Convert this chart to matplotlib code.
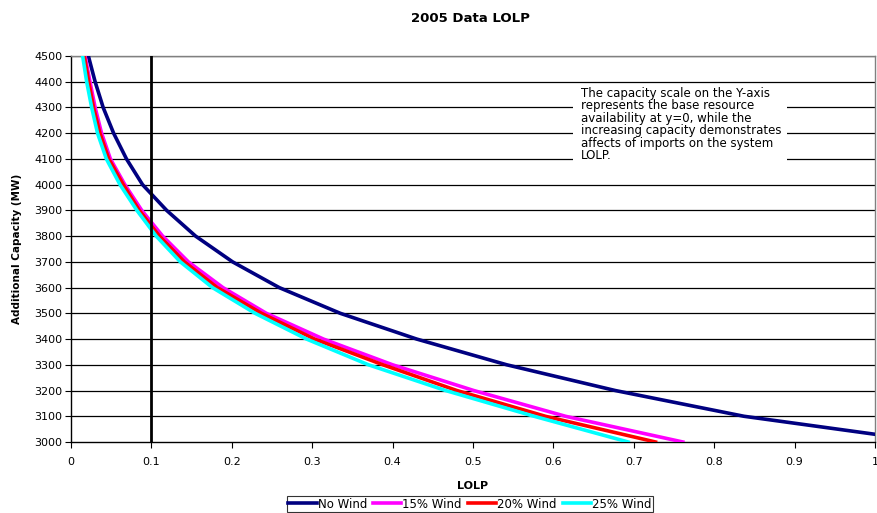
import matplotlib
matplotlib.use("Agg")
import matplotlib.pyplot as plt
from matplotlib.patches import Rectangle

plt.rcParams['font.family'] = ['DejaVu Sans']

# capacity levels (MW) and the LOLP at those levels
cap = [4500, 4400, 4300, 4200, 4100, 4000, 3900, 3800, 3700, 3600, 3500, 3400, 3300, 3200, 3100]
lolp_no_wind = [0.0216, 0.030, 0.040, 0.053, 0.069, 0.089, 0.119, 0.155, 0.201, 0.259, 0.335, 0.430, 0.542, 0.677, 0.837]
lolp_15 = [0.0174, 0.0236, 0.030, 0.038, 0.049, 0.067, 0.088, 0.114, 0.146, 0.189, 0.243, 0.314, 0.400, 0.501, 0.615]
lolp_20 = [0.0165, 0.022, 0.028, 0.036, 0.047, 0.065, 0.085, 0.110, 0.141, 0.182, 0.237, 0.303, 0.388, 0.480, 0.590]
lolp_25 = [0.0145, 0.0195, 0.0257, 0.033, 0.044, 0.061, 0.082, 0.106, 0.136, 0.176, 0.229, 0.293, 0.370, 0.466, 0.576]
# where each curve leaves the plot area
end_no_wind = (1.0, 3030)
end_15 = (0.761, 3000)
end_20 = (0.727, 3000)
end_25 = (0.693, 3000)

series = [
    ('No Wind', lolp_no_wind, end_no_wind, '#000080'),
    ('15% Wind', lolp_15, end_15, '#FF00FF'),
    ('20% Wind', lolp_20, end_20, '#FF0000'),
    ('25% Wind', lolp_25, end_25, '#00FFFF'),
]

W, H = 877, 513
fig = plt.figure(figsize=(8.77, 5.13), dpi=100)
ax = fig.add_axes([71/W, 71/H, 804/W, 386/H])

for yv in range(3100, 4501, 100):
    ax.axhline(yv, color='black', lw=0.9, zorder=1)

# white block behind the note, it cuts the gridlines
ax.add_patch(Rectangle((573/W, 1 - 166/H), 214/W, 80/H, transform=fig.transFigure,
                       facecolor='white', edgecolor='none', zorder=2))

for name, xs, end, col in series:
    ax.plot(xs + [end[0]], cap + [end[1]], color=col, lw=2.6, label=name, zorder=3)

ax.axvline(0.1, color='black', lw=2, zorder=4)

ax.set_xlim(0, 1)
ax.set_ylim(3000, 4500)
ax.set_xticks([i / 10 for i in range(11)])
ax.set_xticklabels(['0', '0.1', '0.2', '0.3', '0.4', '0.5', '0.6', '0.7', '0.8', '0.9', '1'])
ax.set_yticks(range(3000, 4501, 100))
ax.tick_params(axis='y', labelsize=8, length=4, width=0.8, pad=2)
ax.tick_params(axis='x', labelsize=8, length=4, width=0.8, pad=7)
for s in ax.spines.values():
    s.set_color('#808080')
    s.set_linewidth(1)
ax.spines['left'].set_color('black')
ax.spines['bottom'].set_color('black')

ax.set_xlabel('LOLP', fontsize=8, fontweight='bold', labelpad=10)
ax.set_ylabel('Additional Capacity (MW)', fontsize=7.5, fontweight='bold', labelpad=9)
fig.text(470/W, 1 - 18/H, '2005 Data LOLP', fontsize=9.5, fontweight='bold',
         ha='center', va='center')

note = ('The capacity scale on the Y-axis\nrepresents the base resource\n'
        'availability at y=0, while the\nincreasing capacity demonstrates\n'
        'affects of imports on the system\nLOLP.')
fig.text(581/W, 1 - 87/H, note, fontsize=8.5, ha='left', va='top', linespacing=0.95, zorder=5)

leg = fig.legend(loc='center', bbox_to_anchor=(470/W, 1 - 504/H), ncol=4, fontsize=8.5,
                 frameon=True, fancybox=False, edgecolor='black', handlelength=2.4,
                 handletextpad=0.1, columnspacing=0.5, borderpad=0.1, borderaxespad=0)
leg.get_frame().set_linewidth(0.8)

fig.savefig('out.png', dpi=100)
